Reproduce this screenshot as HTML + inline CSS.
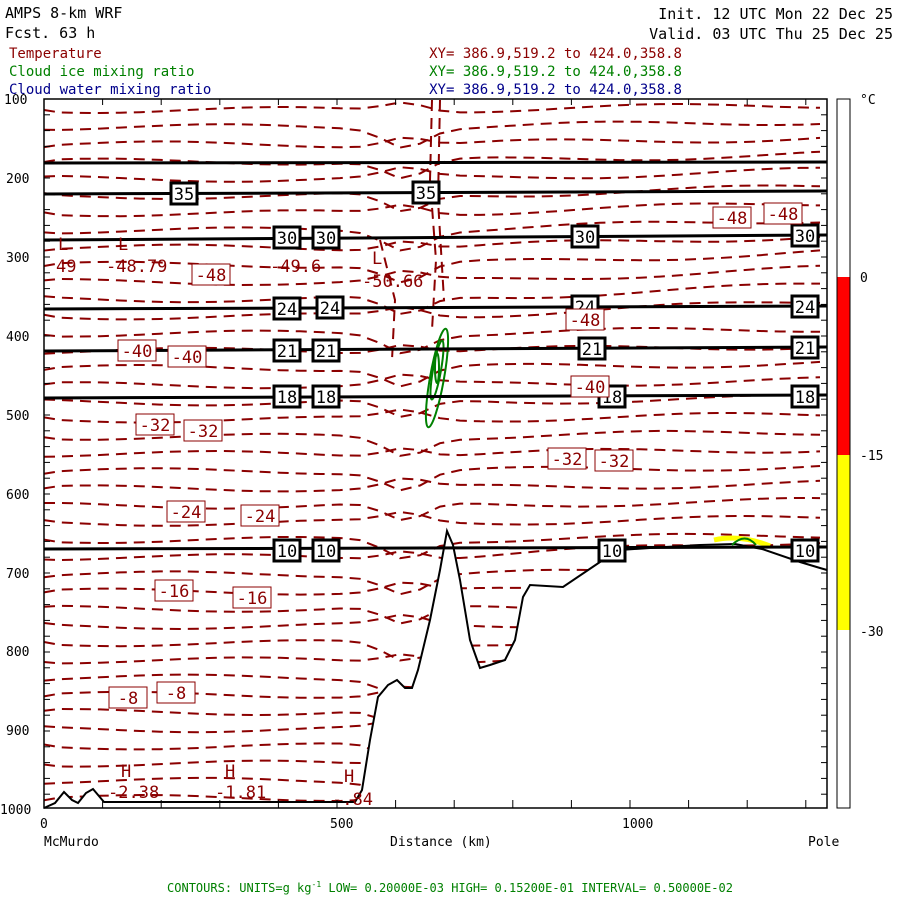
<!DOCTYPE html>
<html><head><meta charset="utf-8"><style>
body{margin:0;background:#fff;width:900px;height:900px;overflow:hidden}
svg{display:block}
text{font-family:"DejaVu Sans Mono","Liberation Mono",monospace}
</style></head><body>
<svg id="s" width="900" height="900" viewBox="0 0 900 900" xmlns="http://www.w3.org/2000/svg">
<g font-size="15" fill="#000">
<text x="5" y="18">AMPS 8-km WRF</text>
<text x="5" y="38">Fcst.   63 h</text>
<text x="893" y="19" text-anchor="end">Init. 12 UTC Mon 22 Dec 25</text>
<text x="893" y="39" text-anchor="end">Valid. 03 UTC Thu 25 Dec 25</text>
</g>
<g font-size="14">
<text x="9" y="58" fill="#8b0000">Temperature</text>
<text x="9" y="76" fill="#008000">Cloud ice mixing ratio</text>
<text x="9" y="94" fill="#00008b">Cloud water mixing ratio</text>
<text x="682" y="58" fill="#8b0000" text-anchor="end">XY= 386.9,519.2 to 424.0,358.8</text>
<text x="682" y="76" fill="#008000" text-anchor="end">XY= 386.9,519.2 to 424.0,358.8</text>
<text x="682" y="94" fill="#00008b" text-anchor="end">XY= 386.9,519.2 to 424.0,358.8</text>
</g>
<g id="cont" fill="none" stroke="#8b0000" stroke-width="2" stroke-dasharray="11,7"></g>
<path d="M44,808 L55,803 L64,792 L72,800 L78,803 L86,793 L93,789 L104,802 L355,802 L362,790 L370,740 L378,697 L388,685 L397,680 L405,688 L412,688 L418,670 L430,620 L440,570 L447,531 L453,545 L460,580 L470,640 L480,668 L490,665 L505,660 L515,640 L523,597 L530,585 L563,587 L600,562 L620,550 L650,548 L700,545 L735,544 L762,549 L800,562 L820,568 L827,570 L827,808 Z" fill="#fff" stroke="none"/>
<path d="M44,808 L55,803 L64,792 L72,800 L78,803 L86,793 L93,789 L104,802 L355,802 L362,790 L370,740 L378,697 L388,685 L397,680 L405,688 L412,688 L418,670 L430,620 L440,570 L447,531 L453,545 L460,580 L470,640 L480,668 L490,665 L505,660 L515,640 L523,597 L530,585 L563,587 L600,562 L620,550 L650,548 L700,545 L735,544 L762,549 L800,562 L820,568 L827,570" fill="none" stroke="#000" stroke-width="2"/>
<path d="M714,540 Q740,534 770,546" stroke="#ff0" stroke-width="5" fill="none"/>
<path d="M732,545 Q745,532 756,545" stroke="#008000" stroke-width="2" fill="none"/>
<g fill="none" stroke="#008000" stroke-width="2">
<ellipse cx="437" cy="378" rx="7" ry="50" transform="rotate(10 437 378)"/>
<ellipse cx="437" cy="370" rx="4" ry="30" transform="rotate(10 437 370)"/>
<ellipse cx="437" cy="368" rx="2" ry="15"/>
</g>
<g stroke="#000" stroke-width="3" fill="none">
<path d="M44,163 L827,162"/><path d="M44,194 L827,191"/><path d="M44,240 L827,235"/>
<path d="M44,309 L827,306"/><path d="M44,351 L827,347"/><path d="M44,398 L827,395"/><path d="M44,549 L827,547"/>
</g>
<g id="blab"></g>
<g id="rlab"></g>
<rect x="44" y="99" width="783" height="709" fill="none" stroke="#000" stroke-width="1.5"/>
<g id="ticks" stroke="#000" stroke-width="1"></g>
<g font-size="13" fill="#000" font-family="Liberation Mono">
<text x="4" y="104">100</text><text x="6" y="183">200</text><text x="6" y="262">300</text><text x="6" y="341">400</text><text x="6" y="420">500</text><text x="6" y="499">600</text><text x="6" y="578">700</text><text x="6" y="656">800</text><text x="6" y="735">900</text><text x="0" y="814">1000</text>
<text x="40" y="828">0</text><text x="330" y="828">500</text><text x="622" y="828">1000</text>
<text x="44" y="846">McMurdo</text><text x="390" y="846">Distance (km)</text><text x="808" y="846">Pole</text>
<text x="860" y="104">°C</text><text x="860" y="282">0</text><text x="860" y="460">-15</text><text x="860" y="636">-30</text>
</g>
<rect x="837" y="99" width="13" height="709" fill="#fff" stroke="#000"/>
<rect x="837" y="277" width="13" height="178" fill="#f00"/>
<rect x="837" y="455" width="13" height="175" fill="#ff0"/>
<rect x="837" y="99" width="13" height="709" fill="none" stroke="#000"/>
<text x="450" y="892" font-size="12" fill="#008000" text-anchor="middle" font-family="Liberation Serif">CONTOURS:  UNITS=g kg<tspan font-size="8" dy="-5">-1</tspan><tspan dy="5">  LOW= 0.20000E-03  HIGH= 0.15200E-01  INTERVAL= 0.50000E-02</tspan></text>
</svg>
<script>
var NS="http://www.w3.org/2000/svg",c=document.getElementById('cont');
function P(d,g){var p=document.createElementNS(NS,'path');p.setAttribute('d',d);(g||c).appendChild(p);}
for(var i=0;i<41;i++){var yl=110+i*17.2;var yr;
 if(yl<330)yr=105+(yl-110)*0.95;else yr=yl-5;
 if(yr>545&&yr<560)yr=540;
 var d="M44,"+(yl+3*Math.sin(i));
 for(var x=60;x<=827;x+=20){var y=yl+(yr-yl)*Math.max(0,(x-430)/397)+3*Math.sin(x/60+i);
  if(x>350&&x<470){y+=18*Math.exp(-Math.pow((x-405)/28,2))*(i%2?1:-0.5);}
  d+=" L"+x+","+y.toFixed(1);}
 P(d);}
P("M432,100 L430,180 L436,260 L432,330");P("M440,100 L438,200 L444,300");P("M380,240 L395,300 L392,360");
var b=document.getElementById('blab');
function box(x,y,t){b.innerHTML+='<rect x="'+(x-13)+'" y="'+(y-10)+'" width="26" height="21" fill="#fff" stroke="#000" stroke-width="3"/><text x="'+x+'" y="'+(y+7)+'" font-size="17" text-anchor="middle" font-family="Liberation Sans">'+t+'</text>';}
[[184,193,35],[426,192,35],[287,237,30],[326,237,30],[585,236,30],[805,235,30],[287,308,24],[330,307,24],[585,306,24],[805,306,24],[287,350,21],[326,350,21],[592,348,21],[805,347,21],[287,396,18],[326,396,18],[612,396,18],[805,396,18],[287,550,10],[326,550,10],[612,550,10],[805,550,10]].forEach(function(a){box(a[0],a[1],a[2]);});
var r=document.getElementById('rlab');
function rb(x,y,t){r.innerHTML+='<rect x="'+(x-19)+'" y="'+(y-10)+'" width="38" height="21" fill="#fff" stroke="#8b0000"/><text x="'+x+'" y="'+(y+7)+'" font-size="17" fill="#8b0000" text-anchor="middle" font-family="Liberation Sans">'+t+'</text>';}
[[211,274,-48],[732,217,-48],[783,213,-48],[585,319,-48],[137,350,-40],[187,356,-40],[590,386,-40],[155,424,-32],[203,430,-32],[567,458,-32],[614,460,-32],[186,511,-24],[260,515,-24],[174,590,-16],[252,597,-16],[128,697,-8],[176,692,-8]].forEach(function(a){rb(a[0],a[1],a[2]);});
r.innerHTML+='<g font-size="17" fill="#8b0000" font-family="Liberation Sans"><text x="58" y="250">L</text><text x="56" y="272">49</text><text x="118" y="250">L</text><text x="106" y="272">-48.79</text><text x="270" y="272">-49.6</text><text x="372" y="264">L</text><text x="362" y="287">-50.66</text><text x="121" y="777">H</text><text x="108" y="798">-2.38</text><text x="225" y="777">H</text><text x="215" y="798">-1.81</text><text x="344" y="782">H</text><text x="332" y="805">-.84</text></g>';
var tk=document.getElementById('ticks'),s='';
for(var y=99;y<=808;y+=15.8){s+='<line x1="44" y1="'+y+'" x2="50" y2="'+y+'"/><line x1="821" y1="'+y+'" x2="827" y2="'+y+'"/>';}
for(var x=44;x<=827;x+=58.6){s+='<line x1="'+x+'" y1="808" x2="'+x+'" y2="800"/><line x1="'+x+'" y1="99" x2="'+x+'" y2="105"/>';}
tk.innerHTML=s;
</script>
</body></html>
